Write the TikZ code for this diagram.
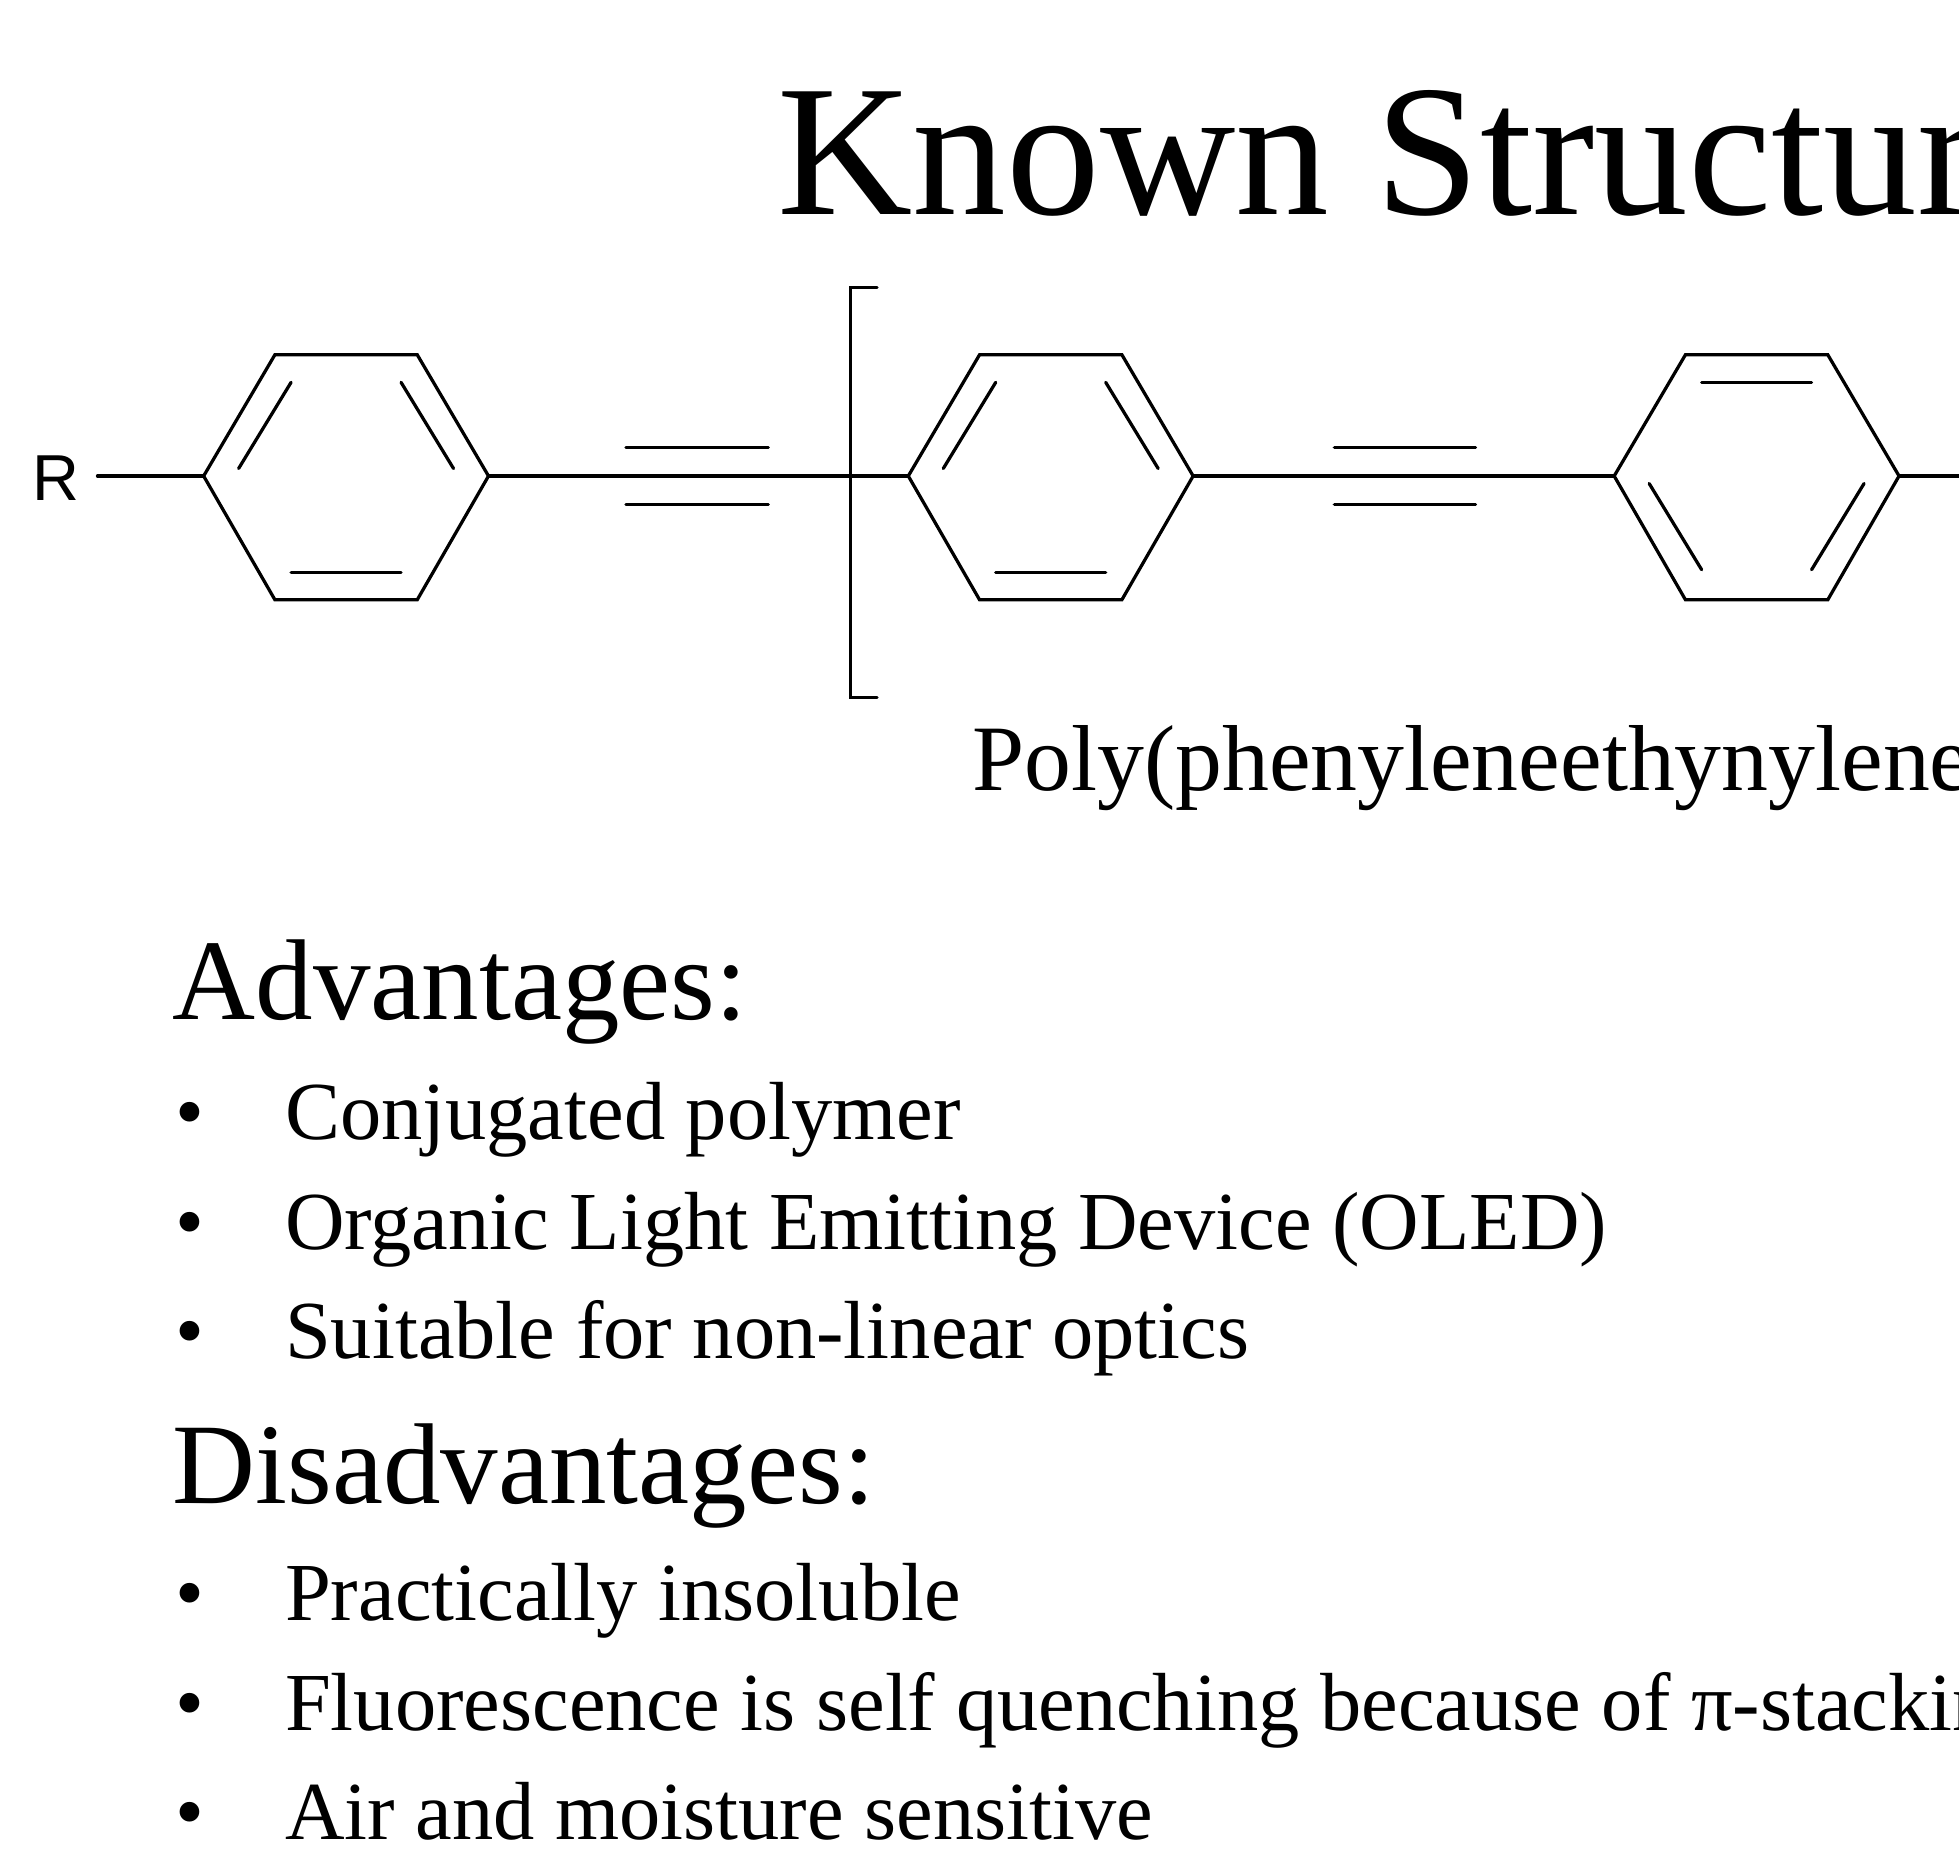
\documentclass[tikz,border=0pt]{standalone}
\usepackage{fontspec}
\setmainfont{Liberation Serif}
\newfontfamily\rfont{Liberation Sans}
\begin{document}
\begin{tikzpicture}[x=1pt,y=-1pt,bond/.style={line width=2.6pt,line cap=round},
 txt/.style={anchor=base west,inner sep=0pt}]
\useasboundingbox (0,0) rectangle (1568,1482);
\clip (0,0) rectangle (1568,1482);
\fill[white] (0,0) rectangle (1568,1482);
\node[txt,font=\fontsize{150}{150}\selectfont] (title) at (622,172) {Known Structures};
% rings
\foreach \cx/\nm in {277/r1,841/r2,1406/r3}{
  \coordinate (\nm) at (\cx,381);
  \draw[bond] (\cx-114,381)--(\cx-57,284)--(\cx+57,284)--(\cx+114,381)--(\cx+57,480)--(\cx-57,480)--cycle;
}
\foreach \cx in {277,841}{
 \draw[bond] (\cx-86,375)--(\cx-44,306);
 \draw[bond] (\cx+86,375)--(\cx+44,306);
 \draw[bond] (\cx-44,458)--(\cx+44,458);
}
\draw[bond] (1406-44,306)--(1406+44,306);
\draw[bond] (1406-86,387)--(1406-44,456);
\draw[bond] (1406+86,387)--(1406+44,456);
% bonds
\node[font=\rfont\fontsize{52}{52}\selectfont,inner sep=0pt] (R) at (45,383) {R};
\draw[bond] (78,381)--(163,381);
\draw[bond] (391,381)--(727,381);
\draw[bond] (501,358)--(615,358);\draw[bond] (501,404)--(615,404);
\draw[bond] (955,381)--(1292,381);
\draw[bond] (1068,358)--(1181,358);\draw[bond] (1068,404)--(1181,404);
\draw[bond] (1520,381)--(1580,381);
\draw[bond] (702,230)--(681,230)--(681,558)--(702,558);
\node[txt,font=\fontsize{75}{75}\selectfont] (poly) at (778,633) {Poly(phenyleneethynylene)};
\node[txt,font=\fontsize{92}{92}\selectfont] (adv) at (138,816) {Advantages:};
\node[txt,font=\fontsize{92}{92}\selectfont] (dis) at (138,1203) {Disadvantages:};
\foreach \y/\t in {912/Conjugated polymer,1000/Organic Light Emitting Device (OLED),1087/Suitable for non-linear optics,1297/Practically insoluble,1385/Fluorescence is self quenching because of π-stacking,1472/Air and moisture sensitive}{
 \node[txt,font=\fontsize{66}{66}\selectfont] at (140,\y) {•};
 \node[txt,font=\fontsize{66}{66}\selectfont] at (228,\y) {\t};
}
\end{tikzpicture}
\end{document}
